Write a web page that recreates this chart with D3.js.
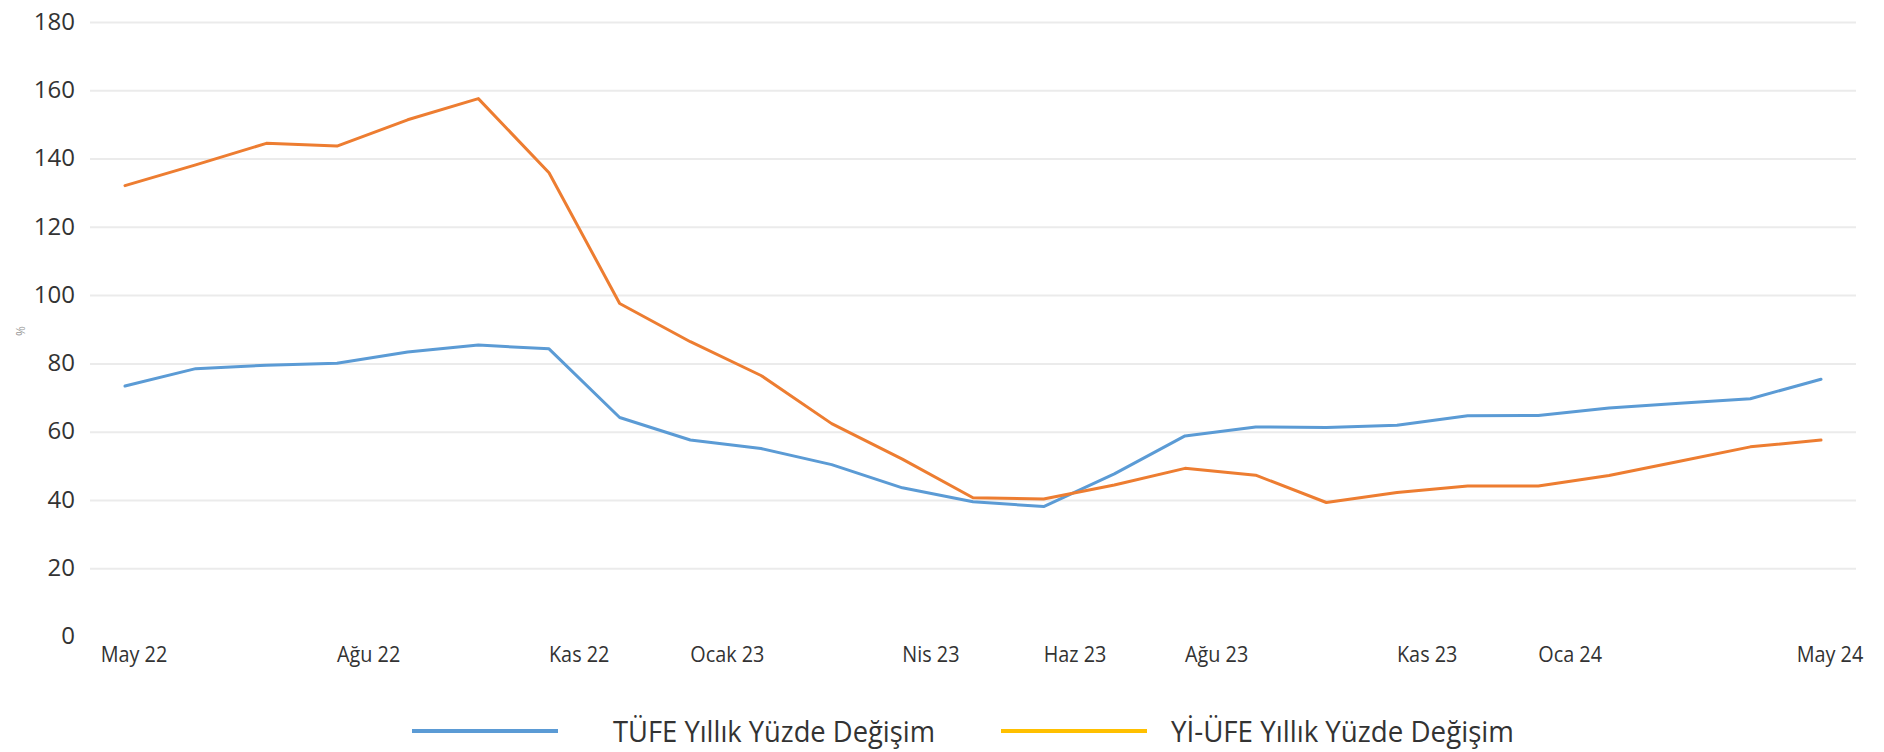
<!DOCTYPE html>
<html>
<head>
<meta charset="utf-8">
<script src="https://cdn.jsdelivr.net/npm/d3@7/dist/d3.min.js"></script>
<style>
  html, body { margin: 0; padding: 0; background: #fff; }
  svg { display: block; }
  text { font-family: "Open Sans", "Noto Sans", sans-serif; fill: #333; }
</style>
</head>
<body>
<svg id="chart" width="1884" height="752"></svg>
<script>
// ---- Data ----
const months = [
  "2022-05","2022-06","2022-07","2022-08","2022-09","2022-10","2022-11","2022-12",
  "2023-01","2023-02","2023-03","2023-04","2023-05","2023-06","2023-07","2023-08",
  "2023-09","2023-10","2023-11","2023-12","2024-01","2024-02","2024-03","2024-04","2024-05"
];
const tufe = [73.5, 78.6, 79.6, 80.2, 83.5, 85.5, 84.4, 64.3, 57.7, 55.2, 50.5, 43.7, 39.6,
              38.2, 47.8, 58.9, 61.5, 61.4, 62.0, 64.8, 64.9, 67.1, 68.5, 69.8, 75.5];
const yiufe = [132.2, 138.3, 144.6, 143.8, 151.5, 157.7, 136.0, 97.7, 86.5, 76.6, 62.5, 52.1, 40.8,
               40.4, 44.5, 49.4, 47.4, 39.4, 42.3, 44.2, 44.2, 47.3, 51.5, 55.7, 57.7];
const tickMonths = ["2022-05","2022-08","2022-11","2023-01","2023-04","2023-06","2023-08","2023-11","2024-01","2024-05"];
const tickLabels = ["May 22","Ağu 22","Kas 22","Ocak 23","Nis 23","Haz 23","Ağu 23","Kas 23","Oca 24","May 24"];
const yTicks = [0, 20, 40, 60, 80, 100, 120, 140, 160, 180];
const seriesNames = ["TÜFE Yıllık Yüzde Değişim", "Yİ-ÜFE Yıllık Yüzde Değişim"];
const lineColors = ["#5b9bd5", "#ed7d31"];
const legendColors = ["#5b9bd5", "#ffc000"];

// ---- Layout ----
const svg = d3.select("#chart");
const x = d3.scalePoint().domain(months).range([125, 1821]);
const y = d3.scaleLinear().domain([0, 180]).range([637, 22.5]);
const gridLeft = 90, gridRight = 1856;

// gridlines
svg.append("g").selectAll("line")
  .data(yTicks.filter(d => d > 0))
  .join("line")
  .attr("x1", gridLeft).attr("x2", gridRight)
  .attr("y1", d => y(d)).attr("y2", d => y(d))
  .attr("stroke", "#ebebeb").attr("stroke-width", 2);

// y axis labels
svg.append("g").selectAll("text")
  .data(yTicks)
  .join("text")
  .attr("x", 75)
  .attr("y", d => y(d))
  .attr("dy", "0.3em")
  .attr("text-anchor", "end")
  .style("font-size", "24px")
  .text(d => d);

// % unit mark
svg.append("text")
  .attr("transform", "translate(21,331) rotate(-90)")
  .attr("text-anchor", "middle")
  .attr("dy", "0.35em")
  .style("font-size", "12px")
  .style("fill", "#999")
  .text("%");

// x axis labels
const xl = svg.append("g").selectAll("text")
  .data(tickMonths)
  .join("text")
  .attr("x", (d, i) => x(d) + ((i === 0 || i === tickMonths.length - 1) ? 9 : 0))
  .attr("y", 662)
  .attr("text-anchor", (d, i) => (i === 0 || i === tickMonths.length - 1) ? "middle" : "start")
  .style("font-size", "22px")
  .text((d, i) => tickLabels[i]);
xl.each(function() {
  const w = this.getComputedTextLength();
  d3.select(this).attr("textLength", w * 0.9).attr("lengthAdjust", "spacingAndGlyphs");
});

// lines
const line = d3.line().x((d, i) => x(months[i])).y(d => y(d));
[tufe, yiufe].forEach((s, k) => {
  svg.append("path")
    .datum(s)
    .attr("d", line)
    .attr("fill", "none")
    .attr("stroke", lineColors[k])
    .attr("stroke-width", 3)
    .attr("stroke-linejoin", "round")
    .attr("stroke-linecap", "round");
});

// legend
const legendItems = [
  { x1: 412, x2: 558, tx: 613, tw: 322 },
  { x1: 1001, x2: 1147, tx: 1171, tw: 343 }
];
const lg = svg.append("g");
legendItems.forEach((it, k) => {
  lg.append("line")
    .attr("x1", it.x1).attr("x2", it.x2)
    .attr("y1", 731).attr("y2", 731)
    .attr("stroke", legendColors[k]).attr("stroke-width", 4);
  lg.append("text")
    .attr("x", it.tx).attr("y", 742)
    .style("font-size", "29px")
    .attr("textLength", it.tw)
    .attr("lengthAdjust", "spacingAndGlyphs")
    .text(seriesNames[k]);
});
</script>
</body>
</html>
